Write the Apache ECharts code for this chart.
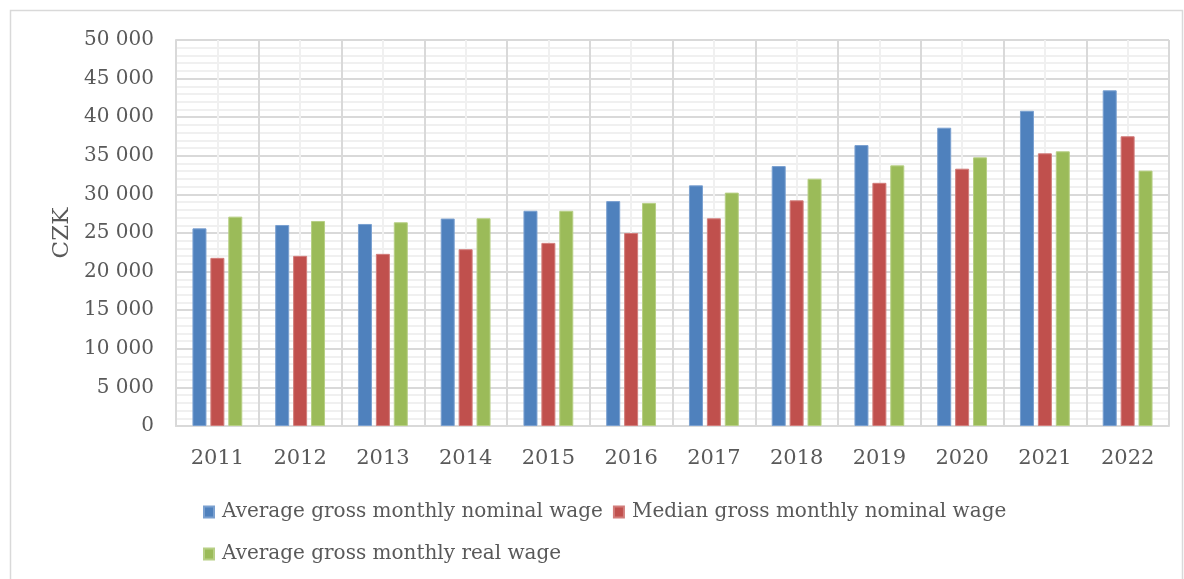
<!DOCTYPE html>
<html>
<head>
<meta charset="utf-8">
<script src="https://cdn.jsdelivr.net/npm/echarts@6/dist/echarts.min.js"></script>
<style>html,body{margin:0;padding:0;background:#fff}#c{width:1184px;height:579px}</style>
</head>
<body>
<div id="c"></div>
<script>
var categories = ['2011','2012','2013','2014','2015','2016','2017','2018','2019','2020','2021','2022'];
var avgNominal = [25600, 26040, 26170, 26870, 27880, 29130, 31170, 33670, 36390, 38640, 40830, 43480];
var medianNominal = [21780, 22040, 22300, 22900, 23720, 25000, 26900, 29230, 31500, 33330, 35320, 37530];
var avgReal = [27120, 26560, 26390, 26910, 27880, 28900, 30230, 32030, 33760, 34800, 35580, 33080];
var seriesNames = ['Average gross monthly nominal wage', 'Median gross monthly nominal wage', 'Average gross monthly real wage'];

var FONT = 'DejaVu Serif';
var TXT = '#595959';
function fmt(v){
  if (v === 0) return '0';
  var t = Math.floor(v/1000), r = v % 1000;
  return t + ' ' + ('00' + r).slice(-3);
}
var chart = echarts.init(document.getElementById('c'));
function bar(name, data, color, border){
  return {
    name: name, type: 'bar', data: data, xAxisIndex: 0, yAxisIndex: 0,
    barWidth: 14, barGap: '28%',
    itemStyle: {color: color, borderColor: border, borderWidth: 1},
    emphasis: {disabled: true}
  };
}
chart.setOption({
  animation: false,
  graphic: [{type: 'rect', shape: {x: 10.5, y: 10.5, width: 1172, height: 600}, style: {fill: 'none', stroke: '#d9d9d9', lineWidth: 1.5}, silent: true}],
  grid: {left: 176, top: 40, right: 15, bottom: 153, containLabel: false},
  legend: {
    left: 203, top: 496, width: 830, padding: 0,
    itemWidth: 10, itemHeight: 11, itemGap: 10,
    icon: 'rect',
    textStyle: {fontFamily: FONT, fontSize: 20, color: TXT, lineHeight: 32, padding: [0,0,0,3]},
    data: seriesNames
  },
  xAxis: [{
    type: 'category', data: categories,
    axisLine: {show: true, lineStyle: {color: '#d9d9d9', width: 2}},
    axisTick: {show: false},
    splitLine: {show: false},
    axisLabel: {fontFamily: FONT, fontSize: 21, color: TXT, margin: 22}
  }, {
    type: 'value', min: 0, max: 12, interval: 1, position: 'bottom',
    axisLine: {show: false}, axisTick: {show: false}, axisLabel: {show: false},
    splitLine: {show: true, lineStyle: {color: '#d9d9d9', width: 2}},
    minorTick: {show: false, splitNumber: 2},
    minorSplitLine: {show: true, lineStyle: {color: '#f0f0f0', width: 2}}
  }],
  yAxis: {
    type: 'value', min: 0, max: 50000, interval: 5000,
    name: 'CZK', nameLocation: 'middle', nameGap: 98, nameRotate: 90,
    nameTextStyle: {fontFamily: FONT, fontSize: 23, color: TXT},
    axisLine: {show: true, lineStyle: {color: '#d9d9d9', width: 2}},
    axisTick: {show: false},
    axisLabel: {fontFamily: FONT, fontSize: 20, color: TXT, margin: 22, formatter: fmt},
    splitLine: {show: true, lineStyle: {color: '#d9d9d9', width: 2}},
    minorTick: {show: false, splitNumber: 5},
    minorSplitLine: {show: true, lineStyle: {color: '#f0f0f0', width: 2}}
  },
  series: [
    bar(seriesNames[0], avgNominal, '#4f81bd', '#7aa0d0'),
    bar(seriesNames[1], medianNominal, '#c0504d', '#d27d7b'),
    bar(seriesNames[2], avgReal, '#9bbb59', '#b7cf85')
  ]
});
</script>
</body>
</html>
